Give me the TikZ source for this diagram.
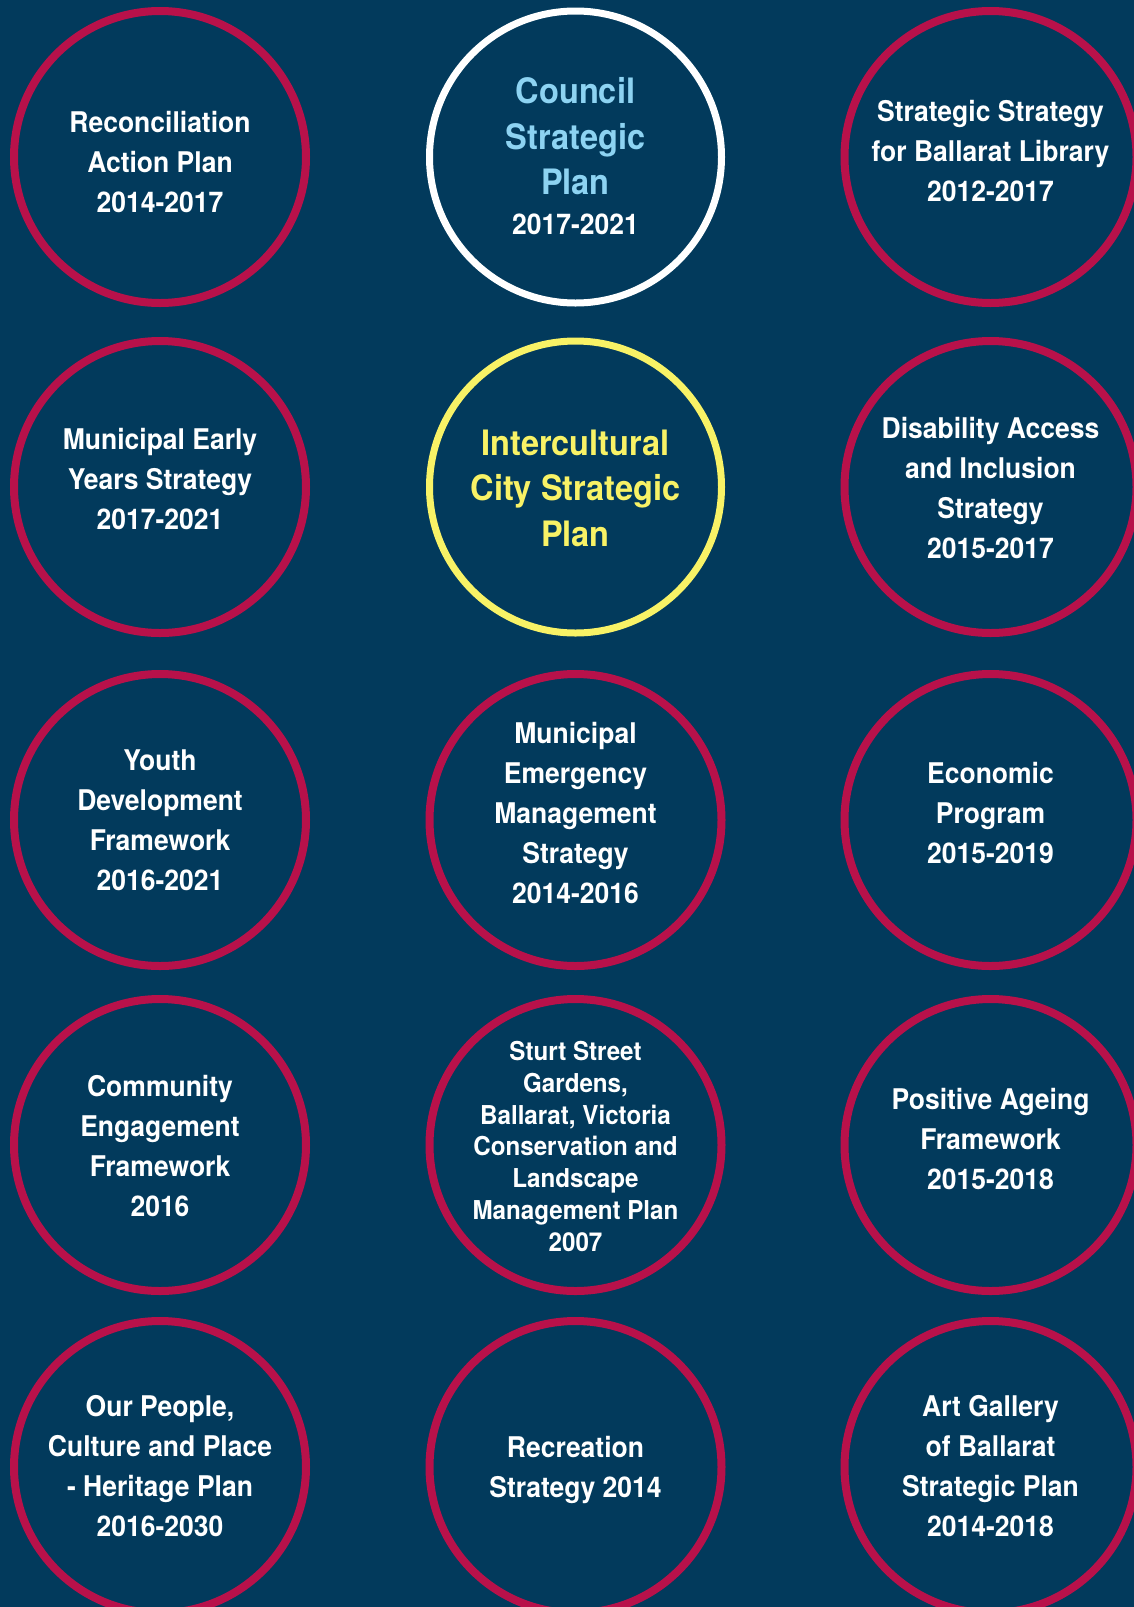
\documentclass[tikz,border=0pt]{standalone}
\usepackage{fontspec}
\setmainfont{TeX Gyre Heros}[FakeStretch=0.93]
\definecolor{navy}{RGB}{2,58,92}
\definecolor{plum}{RGB}{184,17,74}
\definecolor{lemon}{RGB}{248,242,102}
\definecolor{sky}{RGB}{141,211,242}
\tikzset{
  ring/.style={circle, draw=plum, line width=8pt, minimum size=292pt, inner sep=0pt},
  keyring/.style={ring, draw=white, line width=7pt},
  focusring/.style={ring, draw=lemon, line width=7pt},
  txt/.style={text=white, align=center, inner sep=0pt,
    font=\bfseries\fontsize{28.5}{40}\selectfont,
    execute at begin node=\strut, execute at end node=\strut},
  smalltxt/.style={txt, font=\bfseries\fontsize{26}{31.8}\selectfont},
  bigtxt/.style={txt, font=\bfseries\fontsize{35}{45.5}\selectfont}
}
\begin{document}
\begin{tikzpicture}[x=1pt,y=-1pt]
\useasboundingbox (0,0) rectangle (1134,1607);
\clip (0,0) rectangle (1134,1607);
\fill[navy] (0,0) rectangle (1134,1607);

% row 1
\node[ring] (rap) at (160,157) {};
\node[txt] (rap-t) at (160,168) {Reconciliation\\Action Plan\\2014-2017};
\node[keyring] (csp) at (575.5,157) {};
\node[bigtxt, text=sky] (csp-t) at (575.5,143) {Council\\Strategic\\Plan};
\node[txt, anchor=base] (csp-y) at (575.5,234) {2017-2021};
\node[ring] (lib) at (990.5,157) {};
\node[txt] (lib-t) at (990.5,157) {Strategic Strategy\\for Ballarat Library\\2012-2017};

% row 2
\node[ring] (mey) at (160,487) {};
\node[txt] (mey-t) at (160,485) {Municipal Early\\Years Strategy\\2017-2021};
\node[focusring] (ics) at (575.5,487) {};
\node[bigtxt, text=lemon] (ics-t) at (575.5,495) {Intercultural\\City Strategic\\Plan};
\node[ring] (dai) at (990.5,487) {};
\node[txt] (dai-t) at (990.5,494) {Disability Access\\and Inclusion\\Strategy\\2015-2017};

% row 3
\node[ring] (ydf) at (160,820) {};
\node[txt] (ydf-t) at (160,826) {Youth\\Development\\Framework\\2016-2021};
\node[ring] (mems) at (575.5,820) {};
\node[txt] (mems-t) at (575.5,819) {Municipal\\Emergency\\Management\\Strategy\\2014-2016};
\node[ring] (eco) at (990.5,820) {};
\node[txt] (eco-t) at (990.5,819) {Economic\\Program\\2015-2019};

% row 4
\node[ring] (cef) at (160,1145) {};
\node[txt] (cef-t) at (160,1152) {Community\\Engagement\\Framework\\2016};
\node[ring] (ssg) at (575.5,1145) {};
\node[smalltxt] (ssg-t) at (575.5,1151) {Sturt Street\\Gardens,\\Ballarat, Victoria\\Conservation and\\Landscape\\Management Plan\\2007};
\node[ring] (paf) at (990.5,1145) {};
\node[txt] (paf-t) at (990.5,1145) {Positive Ageing\\Framework\\2015-2018};

% row 5
\node[ring] (hp) at (160,1467) {};
\node[txt] (hp-t) at (160,1472) {Our People,\\Culture and Place\\- Heritage Plan\\2016-2030};
\node[ring] (rs) at (575.5,1467) {};
\node[txt] (rs-t) at (575.5,1473) {Recreation\\Strategy 2014};
\node[ring] (agb) at (990.5,1467) {};
\node[txt] (agb-t) at (990.5,1472) {Art Gallery\\of Ballarat\\Strategic Plan\\2014-2018};
\end{tikzpicture}
\end{document}
